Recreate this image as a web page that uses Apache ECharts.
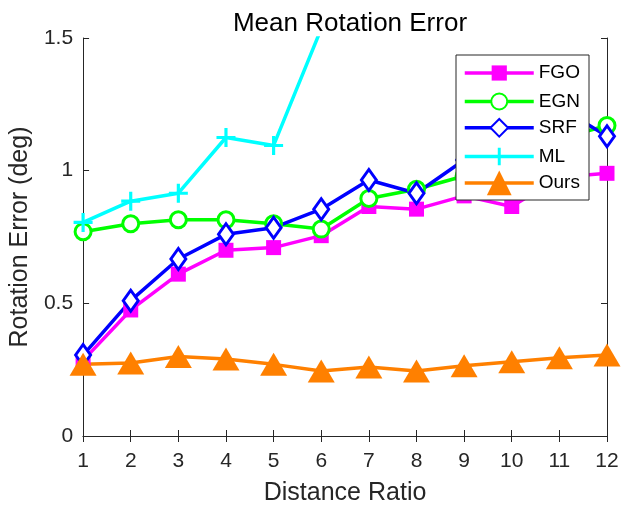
<!DOCTYPE html>
<html>
<head>
<meta charset="utf-8">
<script src="https://cdn.jsdelivr.net/npm/echarts@6/dist/echarts.min.js"></script>
<style>html,body{margin:0;padding:0;background:#fff;}#c{width:622px;height:511px;}</style>
</head>
<body>
<div id="c"></div>
<script>
var distanceRatio = [1,2,3,4,5,6,7,8,9,10,11,12];
var FGO  = [0.285,0.475,0.61,0.70,0.71,0.755,0.865,0.855,0.905,0.865,0.975,0.99];
var EGN  = [0.77,0.80,0.815,0.815,0.80,0.78,0.895,0.93,0.98,1.05,1.12,1.17];
var SRF  = [0.305,0.51,0.667,0.76,0.785,0.855,0.965,0.915,1.04,1.10,1.24,1.13];
var ML   = [0.805,0.885,0.915,1.125,1.095,1.535,null,null,null,null,null,null];
var Ours = [0.27,0.275,0.30,0.29,0.27,0.245,0.26,0.245,0.265,0.28,0.295,0.305];
var xTicks = [1,12,1];
var yTicks = [0,1.5,0.5];

var FONT = 'Liberation Sans, Arial, sans-serif';
var AX = '#262626';
var PLUS = 'path://M7.5,0H10.5V7.5H18V10.5H10.5V18H7.5V10.5H0V7.5H7.5Z';

function pairs(vals){ return distanceRatio.map(function(x,i){ return [x, vals[i]]; }); }

var defs = [
  {name:'FGO', data:FGO, color:'#FF00FF', symbol:'rect', size:15, lh:19, cy:73, hollow:false},
  {name:'EGN', data:EGN, color:'#00FF00', symbol:'circle', size:16, lh:20, cy:102, hollow:true},
  {name:'SRF', data:SRF, color:'#0000FF', symbol:'diamond', size:[15,21], lh:22, cy:129, hollow:true},
  {name:'ML', data:ML, color:'#00FFFF', symbol:PLUS, size:19, lh:22, cy:158, hollow:false},
  {name:'Ours', data:Ours, color:'#FF8000', symbol:'triangle', size:[27,23], lh:31, cy:186, hollow:false}
];

var series = defs.map(function(d){
  return {
    name:d.name, type:'line', data:pairs(d.data), symbol:d.symbol, symbolSize:d.size,
    showAllSymbol:true, clip:true, connectNulls:false,
    lineStyle:{color:d.color, width:3.5},
    itemStyle: d.hollow ? {color:'#fff', borderColor:d.color, borderWidth:3}
                        : {color:d.color, borderWidth:0},
    emphasis:{disabled:true}, animation:false
  };
});

var legends = defs.map(function(d){
  return {
    data:[d.name], left:463, top:d.cy - d.lh/2, orient:'vertical',
    itemWidth:69, itemHeight:d.lh, itemGap:0, padding:0,
    lineStyle:{width:3.5},
    textStyle:{fontFamily:FONT, fontSize:19, color:'#000'},
    selectedMode:false, z:5
  };
});

var chart = echarts.init(document.getElementById('c'), null, {renderer:'canvas'});
chart.setOption({
  animation:false,
  backgroundColor:'#fff',
  title:{text:'Mean Rotation Error', left:345, textAlign:'center', top:6,
    textStyle:{fontFamily:FONT, fontSize:26, fontWeight:'normal', color:'#000'}},
  grid:{left:80, right:15, top:38, bottom:73, containLabel:false},
  xAxis:[{
    type:'value', min:xTicks[0], max:xTicks[1], interval:xTicks[2],
    name:'Distance Ratio', nameLocation:'middle', nameGap:45,
    nameTextStyle:{fontFamily:FONT, fontSize:25, color:AX},
    axisLine:{show:true, lineStyle:{color:AX, width:1}},
    axisTick:{show:true, inside:true, length:6, lineStyle:{color:AX}},
    axisLabel:{fontFamily:FONT, fontSize:21, color:AX, margin:15},
    splitLine:{show:false}
  },{
    type:'value', position:'top', min:xTicks[0], max:xTicks[1], interval:xTicks[2],
    axisLine:{show:true, lineStyle:{color:AX, width:1}},
    axisTick:{show:true, inside:true, length:6, lineStyle:{color:AX}},
    axisLabel:{show:false}, splitLine:{show:false}
  }],
  yAxis:[{
    type:'value', min:yTicks[0], max:yTicks[1], interval:yTicks[2],
    name:'Rotation Error (deg)', nameLocation:'middle', nameGap:46,
    nameTextStyle:{fontFamily:FONT, fontSize:25, color:AX},
    axisLine:{show:true, lineStyle:{color:AX, width:1}},
    axisTick:{show:true, inside:true, length:6, lineStyle:{color:AX}},
    axisLabel:{fontFamily:FONT, fontSize:21, color:AX, margin:10},
    splitLine:{show:false}
  },{
    type:'value', position:'right', min:yTicks[0], max:yTicks[1], interval:yTicks[2],
    axisLine:{show:true, lineStyle:{color:AX, width:1}},
    axisTick:{show:true, inside:true, length:6, lineStyle:{color:AX}},
    axisLabel:{show:false}, splitLine:{show:false}
  }],
  legend:legends,
  graphic:[{type:'rect', shape:{x:456, y:55, width:133, height:145},
    style:{fill:'#fff', stroke:AX, lineWidth:1}, z:4, silent:true}],
  series:series
});
</script>
</body>
</html>
